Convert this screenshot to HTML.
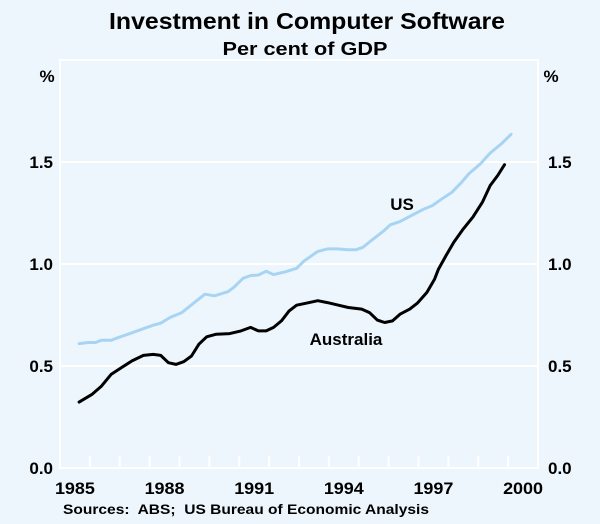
<!DOCTYPE html>
<html><head><meta charset="utf-8"><style>
body{margin:0;background:#eef6fd;}
svg{display:block;font-family:"Liberation Sans",Arial,sans-serif;}
</style></head><body>
<svg width="600" height="524" viewBox="0 0 600 524">
<rect width="600" height="524" fill="#eef6fd"/>
<text x="307" y="29" text-anchor="middle" font-size="23" font-weight="bold" textLength="396" lengthAdjust="spacingAndGlyphs">Investment in Computer Software</text>
<text x="305" y="55" text-anchor="middle" font-size="18" font-weight="bold" textLength="165" lengthAdjust="spacingAndGlyphs">Per cent of GDP</text>
<g id="grid"></g>
<g id="axes"></g>
<g id="series"></g>
<text x="47" y="82" text-anchor="middle" font-size="17" font-weight="bold">%</text>
<text x="551" y="82" text-anchor="middle" font-size="17" font-weight="bold">%</text>
<text x="402" y="210" text-anchor="middle" font-size="17" font-weight="bold">US</text>
<text x="346" y="345" text-anchor="middle" font-size="17" font-weight="bold">Australia</text>
<text x="63" y="514" font-size="14" font-weight="bold" textLength="366" lengthAdjust="spacingAndGlyphs" xml:space="preserve">Sources:  ABS;  US Bureau of Economic Analysis</text>
</svg>
<script>
const yTicks=[0,0.5,1.0,1.5];
const yTickLabels=["0.0","0.5","1.0","1.5"];
const xTickYears=[1985,1988,1991,1994,1997,2000];
const usDates=[1985.64,1985.94,1986.19,1986.38,1986.71,1986.96,1987.35,1987.73,1988.12,1988.37,1988.69,1989.08,1989.40,1989.85,1990.17,1990.62,1990.81,1991.13,1991.38,1991.64,1991.90,1992.15,1992.54,1992.92,1993.18,1993.63,1993.95,1994.27,1994.65,1994.91,1995.14,1995.42,1995.81,1996.06,1996.38,1996.77,1997.15,1997.47,1997.79,1998.12,1998.44,1998.69,1999.08,1999.40,1999.78,2000.10];
const usValues=[.61,.615,.615,.626,.626,.64,.66,.68,.70,.71,.738,.762,.80,.852,.844,.864,.885,.93,.943,.946,.964,.948,.962,.979,1.016,1.062,1.074,1.074,1.07,1.07,1.082,1.115,1.159,1.192,1.208,1.238,1.267,1.287,1.32,1.352,1.40,1.443,1.492,1.544,1.59,1.636];
const ausDates=[1985.64,1986.06,1986.38,1986.71,1987.09,1987.41,1987.79,1988.12,1988.37,1988.63,1988.88,1989.14,1989.40,1989.65,1989.91,1990.23,1990.68,1991.06,1991.38,1991.64,1991.90,1992.15,1992.41,1992.67,1992.92,1993.24,1993.63,1993.95,1994.27,1994.65,1995.10,1995.36,1995.62,1995.87,1996.13,1996.38,1996.71,1996.96,1997.28,1997.54,1997.67,1997.92,1998.18,1998.50,1998.82,1999.14,1999.40,1999.65,1999.88];
const ausValues=[.323,.36,.40,.459,.495,.525,.552,.557,.552,.516,.508,.521,.549,.607,.643,.656,.659,.672,.689,.672,.672,.689,.721,.770,.798,.808,.820,.811,.80,.787,.779,.762,.725,.713,.721,.754,.779,.808,.861,.926,.975,1.041,1.107,1.172,1.23,1.303,1.385,1.434,1.487];

const NS="http://www.w3.org/2000/svg";
const L=60,R=538,T=60,B=468;
const xs=y=>L+(y-1985)*(R-L)/16;
const ys=v=>B-v*(B-T)/2;
function mk(tag,attrs,parent){const e=document.createElementNS(NS,tag);for(const k in attrs)e.setAttribute(k,attrs[k]);parent.appendChild(e);return e;}
const grid=document.getElementById('grid'),axes=document.getElementById('axes'),series=document.getElementById('series');
const frame=mk('rect',{x:L,y:T,width:R-L,height:B-T,fill:'none',stroke:'#fff','stroke-width':2},grid);


yTicks.forEach((v,i)=>{
  if(v>0){const g=mk('line',{x1:L,x2:R,y1:ys(v),y2:ys(v),stroke:'#fff','stroke-width':2},grid);
  
  }
  const a=mk('text',{x:L-7,y:ys(v)+6,'text-anchor':'end','font-size':17,'font-weight':'bold'},axes);a.textContent=yTickLabels[i];
  
  
  const b=mk('text',{x:R+10,y:ys(v)+6,'text-anchor':'start','font-size':17,'font-weight':'bold'},axes);b.textContent=yTickLabels[i];
  
  
});
for(let yr=1986;yr<=2000;yr++){
  const t=mk('line',{x1:xs(yr),x2:xs(yr),y1:B,y2:B-12,stroke:'#fff','stroke-width':2},grid);
  
  
}
xTickYears.forEach(yr=>{
  const t=mk('text',{x:xs(yr+0.5),y:B+26,'text-anchor':'middle','font-size':17,'font-weight':'bold',textLength:40,lengthAdjust:'spacingAndGlyphs'},axes);t.textContent=yr;
  
  
});
function line(d,v,color,w,name){
  const p=mk('path',{d:d.map((x,i)=>(i?'L':'M')+xs(x).toFixed(1)+','+ys(v[i]).toFixed(1)).join(''),fill:'none',stroke:color,'stroke-width':w,'stroke-linejoin':'round','stroke-linecap':'round'},series);
  
  
}
line(usDates,usValues,'#a8d4f4',3,'us-line');
line(ausDates,ausValues,'#000',3,'australia-line');
</script>
</body></html>
